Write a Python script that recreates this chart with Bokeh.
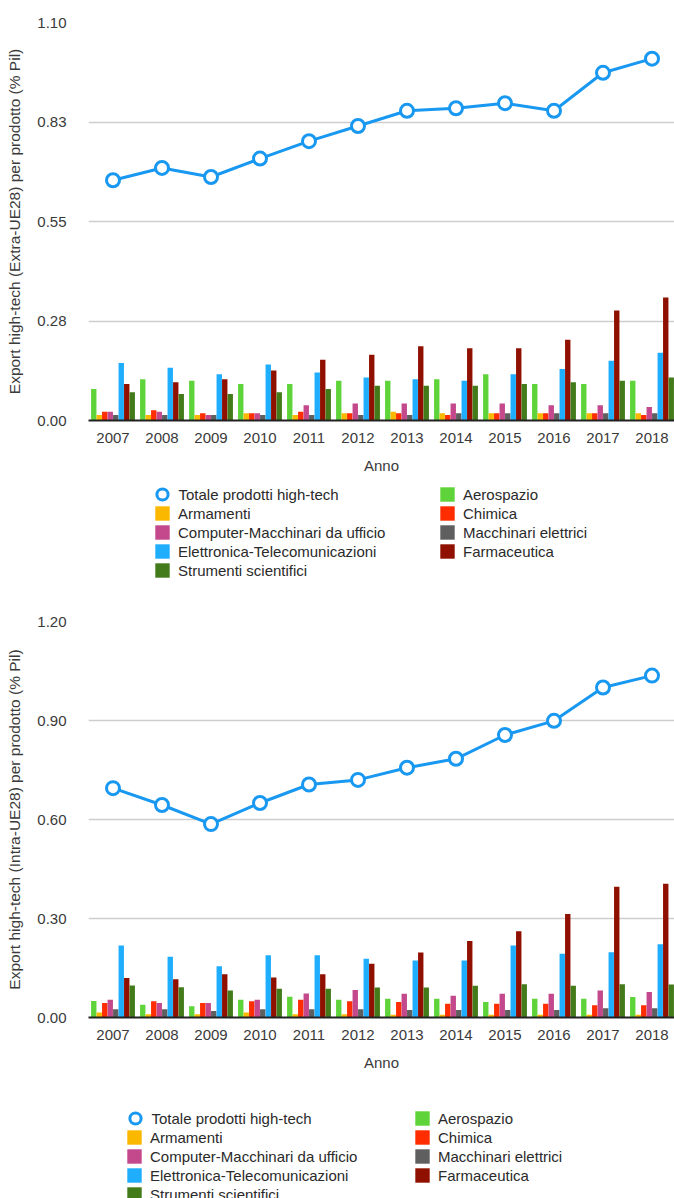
from bokeh.plotting import figure
from bokeh.models import ColumnDataSource, FixedTicker, Range1d, Legend, LegendItem
from bokeh.transform import dodge
from bokeh.layouts import column
from bokeh.embed import file_html
from bokeh.resources import INLINE

# ---- data -----------------------------------------------------------------
years = [2007, 2008, 2009, 2010, 2011, 2012, 2013, 2014, 2015, 2016, 2017, 2018]

# Export extra-UE28 (% Pil)
totale_extra = [0.664, 0.698, 0.673, 0.724, 0.772, 0.814, 0.856, 0.863, 0.877, 0.856, 0.961, 1.000]
aerospazio_extra = [0.087, 0.114, 0.110, 0.101, 0.101, 0.110, 0.110, 0.114, 0.128, 0.101, 0.101, 0.110]
armamenti_extra = [0.015, 0.015, 0.015, 0.020, 0.015, 0.020, 0.024, 0.020, 0.020, 0.020, 0.020, 0.020]
chimica_extra = [0.024, 0.028, 0.020, 0.020, 0.024, 0.020, 0.020, 0.015, 0.020, 0.020, 0.020, 0.015]
computer_extra = [0.024, 0.024, 0.015, 0.020, 0.042, 0.047, 0.047, 0.047, 0.047, 0.042, 0.042, 0.037]
macchinari_extra = [0.015, 0.015, 0.015, 0.015, 0.015, 0.015, 0.015, 0.020, 0.020, 0.020, 0.020, 0.020]
elettronica_extra = [0.159, 0.146, 0.128, 0.155, 0.133, 0.119, 0.114, 0.110, 0.128, 0.142, 0.165, 0.187]
farmaceutica_extra = [0.101, 0.106, 0.114, 0.138, 0.168, 0.182, 0.205, 0.200, 0.200, 0.223, 0.304, 0.340]
strumenti_extra = [0.078, 0.073, 0.073, 0.078, 0.087, 0.096, 0.096, 0.096, 0.101, 0.106, 0.110, 0.119]

# Export intra-UE28 (% Pil)
totale_intra = [0.695, 0.644, 0.586, 0.650, 0.706, 0.720, 0.757, 0.784, 0.856, 0.899, 1.000, 1.036]
aerospazio_intra = [0.050, 0.039, 0.034, 0.054, 0.063, 0.054, 0.057, 0.057, 0.047, 0.057, 0.057, 0.062]
armamenti_intra = [0.015, 0.010, 0.010, 0.015, 0.010, 0.010, 0.008, 0.008, 0.008, 0.008, 0.008, 0.008]
chimica_intra = [0.044, 0.049, 0.044, 0.049, 0.054, 0.049, 0.047, 0.042, 0.042, 0.042, 0.037, 0.037]
computer_intra = [0.054, 0.044, 0.044, 0.054, 0.073, 0.083, 0.072, 0.066, 0.072, 0.072, 0.082, 0.077]
macchinari_intra = [0.025, 0.025, 0.020, 0.025, 0.025, 0.025, 0.023, 0.023, 0.023, 0.023, 0.028, 0.028]
elettronica_intra = [0.218, 0.184, 0.155, 0.189, 0.189, 0.178, 0.173, 0.173, 0.218, 0.193, 0.198, 0.222]
farmaceutica_intra = [0.120, 0.116, 0.131, 0.121, 0.131, 0.163, 0.197, 0.232, 0.261, 0.314, 0.396, 0.405]
strumenti_intra = [0.097, 0.092, 0.082, 0.087, 0.087, 0.091, 0.091, 0.096, 0.101, 0.096, 0.101, 0.100]

total_label = "Totale prodotti high-tech"
series_labels = ["Aerospazio", "Armamenti", "Chimica", "Computer-Macchinari da ufficio",
                 "Macchinari elettrici", "Elettronica-Telecomunicazioni", "Farmaceutica",
                 "Strumenti scientifici"]
series_keys = ["aerospazio", "armamenti", "chimica", "computer",
               "macchinari", "elettronica", "farmaceutica", "strumenti"]

y_ticks_extra = [0.0, 0.275, 0.55, 0.825, 1.1]
y_tick_labels_extra = ["0.00", "0.28", "0.55", "0.83", "1.10"]
y_ticks_intra = [0.0, 0.3, 0.6, 0.9, 1.2]
y_tick_labels_intra = ["0.00", "0.30", "0.60", "0.90", "1.20"]

# ---- style ----------------------------------------------------------------
FONT = "Liberation Sans"
TOTAL_COLOR = "#1898f0"
SERIES_COLORS = ["#5fd43a", "#fbb800", "#ff2d00", "#c4488c",
                 "#5f5f5f", "#1fadfe", "#901000", "#437b1b"]
TEXT_COLOR = "#3a3a3a"
LEGEND_TEXT = "#2a2a2a"
BAR_STEP = 0.1122
BAR_WIDTH = 0.11
FRAME_LEFT = 88
WIDTH = 674
UNIT_PX = 49.0


def make_chart(height, border_top, border_bottom, y_max, y_ticks, y_tick_labels, y_title,
               total, bars):
    frame_w = WIDTH - FRAME_LEFT
    p = figure(width=WIDTH, height=height, output_backend="svg", toolbar_location=None,
               x_range=Range1d(2006.5, 2006.5 + frame_w / UNIT_PX),
               y_range=Range1d(0, y_max),
               min_border_left=FRAME_LEFT, min_border_right=0,
               min_border_top=border_top, min_border_bottom=border_bottom,
               outline_line_color=None, background_fill_color="white",
               border_fill_color="white")

    data = dict(year=years, totale=total)
    for key, vals in zip(series_keys, bars):
        data[key] = vals
    src = ColumnDataSource(data)

    for i, (key, color) in enumerate(zip(series_keys, SERIES_COLORS)):
        p.vbar(x=dodge("year", (i - 3.5) * BAR_STEP, range=p.x_range), top=key,
               width=BAR_WIDTH, source=src, fill_color=color, line_color=None)

    p.line("year", "totale", source=src, line_color=TOTAL_COLOR, line_width=3)
    p.scatter("year", "totale", source=src, size=13, marker="circle",
              fill_color="white", line_color=TOTAL_COLOR, line_width=3)

    # axes
    xa = p.xaxis[0]
    xa.ticker = FixedTicker(ticks=years)
    xa.axis_label = "Anno"
    xa.axis_line_color = "#222222"
    xa.axis_line_width = 2
    xa.major_tick_line_color = None
    xa.minor_tick_line_color = None
    xa.major_label_standoff = 6
    xa.axis_label_standoff = 11
    xa.major_label_text_font = FONT
    xa.major_label_text_font_size = "15px"
    xa.major_label_text_color = TEXT_COLOR
    xa.axis_label_text_font = FONT
    xa.axis_label_text_font_size = "15px"
    xa.axis_label_text_font_style = "normal"
    xa.axis_label_text_color = TEXT_COLOR

    ya = p.yaxis[0]
    ya.ticker = FixedTicker(ticks=y_ticks)
    ya.major_label_overrides = {t: s for t, s in zip(y_ticks, y_tick_labels)}
    ya.axis_label = y_title
    ya.axis_line_color = None
    ya.major_tick_line_color = None
    ya.minor_tick_line_color = None
    ya.major_label_standoff = 16
    ya.axis_label_standoff = 11
    ya.major_label_text_font = FONT
    ya.major_label_text_font_size = "15px"
    ya.major_label_text_color = TEXT_COLOR
    ya.axis_label_text_font = FONT
    ya.axis_label_text_font_size = "15.5px"
    ya.axis_label_text_font_style = "normal"
    ya.axis_label_text_color = TEXT_COLOR

    p.xgrid.grid_line_color = None
    p.ygrid.grid_line_color = "#cdcdcd"
    p.ygrid.grid_line_width = 1.6
    return p, src


def legend_style(**kw):
    base = dict(border_line_color=None, background_fill_alpha=0, padding=0, margin=0,
                spacing=1, glyph_width=18, glyph_height=18, label_height=18,
                label_standoff=7, label_text_font=FONT, label_text_font_size="15px",
                label_text_color=LEGEND_TEXT, orientation="vertical")
    base.update(kw)
    return base


def make_legend(src, height, total_xy, left_xy, right_xy):
    """Two-column key drawn in its own strip; its glyphs share the chart's data
    but sit outside the strip's view range, so only the key is visible.
    Positions are page x (converted to the strip's frame) and y from its bottom."""
    lf = figure(width=WIDTH, height=height, output_backend="svg", toolbar_location=None,
                x_range=Range1d(0, 1), y_range=Range1d(0, 1),
                x_axis_location=None, y_axis_location=None, min_border=0,
                outline_line_color=None, background_fill_color="white",
                border_fill_color="white")
    lf.grid.visible = False

    dots = lf.scatter("year", "totale", source=src, size=13, marker="circle",
                      fill_color="white", line_color=TOTAL_COLOR, line_width=3)
    bars = []
    for key, color in zip(series_keys, SERIES_COLORS):
        bars.append(lf.vbar(x="year", top=key, width=BAR_WIDTH, source=src,
                            fill_color=color, line_color=None))

    left_items, right_items = [], []
    for i, r in enumerate(bars):
        item = LegendItem(label=series_labels[i], renderers=[r])
        (right_items if i % 2 == 0 else left_items).append(item)

    def loc(xy):
        return (xy[0] - FRAME_LEFT, xy[1])

    # the ring key needs a larger glyph box so the marker is drawn at full size
    lf.add_layout(Legend(items=[LegendItem(label=total_label, renderers=[dots])],
                         location=loc(total_xy),
                         **legend_style(glyph_width=28, glyph_height=28, label_standoff=3)))
    lf.add_layout(Legend(items=left_items, location=loc(left_xy), **legend_style()))
    lf.add_layout(Legend(items=right_items, location=loc(right_xy), **legend_style()))
    return lf


p_extra, src_extra = make_chart(
    480, 22, 60, 1.1, y_ticks_extra, y_tick_labels_extra,
    "Export high-tech (Extra-UE28) per prodotto (% Pil)",
    totale_extra,
    [aerospazio_extra, armamenti_extra, chimica_extra, computer_extra,
     macchinari_extra, elettronica_extra, farmaceutica_extra, strumenti_extra])
leg_extra = make_legend(src_extra, 120, (147.5, 92), (153, 21), (438, 40))

p_intra, src_intra = make_chart(
    480, 21, 63, 1.2, y_ticks_intra, y_tick_labels_intra,
    "Export high-tech (Intra-UE28) per prodotto (% Pil)",
    totale_intra,
    [aerospazio_intra, armamenti_intra, chimica_intra, computer_intra,
     macchinari_intra, elettronica_intra, farmaceutica_intra, strumenti_intra])
leg_intra = make_legend(src_intra, 118, (120.5, 66), (125, -5), (413, 14))

page = column(p_extra, leg_extra, p_intra, leg_intra, spacing=0)

with open("out.html", "w") as f:
    f.write(file_html(page, INLINE))
